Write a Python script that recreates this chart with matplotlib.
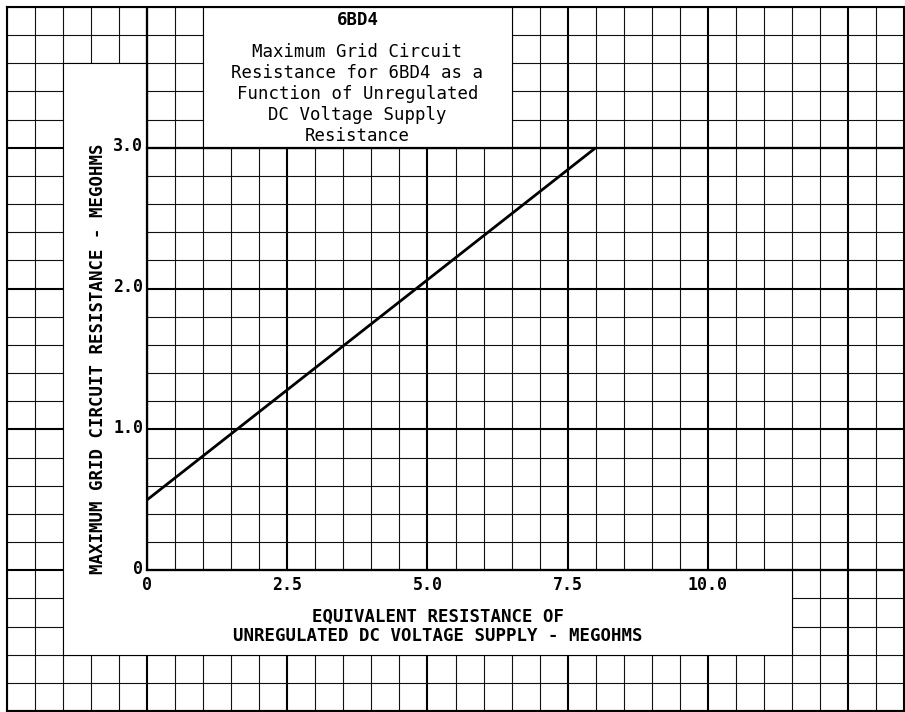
import matplotlib
matplotlib.use("Agg")
import matplotlib.pyplot as plt
from matplotlib.patches import Polygon, Rectangle
from matplotlib.ticker import MultipleLocator

# curve: max grid resistance vs supply resistance (megohms)
supply_res = [0.0, 8.0]
grid_res = [0.5, 3.0]

x_ticks = [0.0, 2.5, 5.0, 7.5, 10.0]
x_tick_labels = ["0", "2.5", "5.0", "7.5", "10.0"]
y_ticks = [0.0, 1.0, 2.0, 3.0]
y_tick_labels = ["0", "1.0", "2.0", "3.0"]

tube = "6BD4"
title_lines = [
    "Maximum Grid Circuit",
    "Resistance for 6BD4 as a",
    "Function of Unregulated",
    "DC Voltage Supply",
    "Resistance",
]
x_label = "EQUIVALENT RESISTANCE OF\nUNREGULATED DC VOLTAGE SUPPLY - MEGOHMS"
y_label = "MAXIMUM GRID CIRCUIT RESISTANCE - MEGOHMS"

MONO = "DejaVu Sans Mono"

fig = plt.figure(figsize=(9.05, 7.12), dpi=100)
ax = fig.add_axes([7 / 905, 1 / 712, 897 / 905, 704 / 712])
ax.set_xlim(-2.5, 13.5)
ax.set_ylim(-1.0, 4.0)

# graph paper
ax.xaxis.set_major_locator(MultipleLocator(2.5))
ax.xaxis.set_minor_locator(MultipleLocator(0.5))
ax.yaxis.set_major_locator(MultipleLocator(1.0))
ax.yaxis.set_minor_locator(MultipleLocator(0.2))
ax.tick_params(which="both", length=0, labelbottom=False, labelleft=False)
ax.set_axisbelow(True)
ax.grid(which="major", color="black", lw=1.5)
ax.grid(which="minor", color="#111111", lw=0.8)
for s in ax.spines.values():
    s.set_linewidth(1.5)

# white label areas cut out of the grid
label_box = Polygon([(-1.5, 3.6), (0, 3.6), (0, 0), (11.5, 0), (11.5, -0.6), (-1.5, -0.6)],
                    closed=True, fc="white", ec="black", lw=0.8, zorder=1)
title_box = Rectangle((1.0, 3.0), 5.5, 1.0, fc="white", ec="black", lw=0.8, zorder=1)
ax.add_patch(label_box)
ax.add_patch(title_box)

# axis lines
ax.axvline(0, ymin=0.2, ymax=1.0, color="black", lw=1.6, zorder=1.5)
ax.axhline(0, xmin=2.5 / 16, xmax=1.0, color="black", lw=1.6, zorder=1.5)
ax.axhline(3.0, xmin=2.5 / 16, xmax=1.0, color="black", lw=1.6, zorder=1.5)

ax.plot(supply_res, grid_res, color="black", lw=2.0, zorder=3, solid_capstyle="butt")

# tick labels
for v, t in zip(x_ticks, x_tick_labels):
    ax.text(v, -0.04, t, ha="center", va="top", family=MONO, weight="bold", fontsize=12)
for v, t in zip(y_ticks, y_tick_labels):
    ax.text(-0.07, v + 0.01, t, ha="right", va="center", family=MONO, weight="bold", fontsize=12)

# titles
ax.text(3.75, 3.905, tube, ha="center", va="center", family=MONO, weight="bold", fontsize=12.5)
for i, line in enumerate(title_lines):
    ax.text(3.75, 3.68 - i * 0.149, line, ha="center", va="center", family=MONO, fontsize=12.5)

ax.text(5.19, -0.40, x_label, ha="center", va="center", family=MONO, weight="bold",
        fontsize=12.5, linespacing=1.05)
ax.text(-0.874, 1.5, y_label, ha="center", va="center", rotation=90, family=MONO,
        weight="bold", fontsize=12.5)

fig.savefig("out.png", dpi=100)
